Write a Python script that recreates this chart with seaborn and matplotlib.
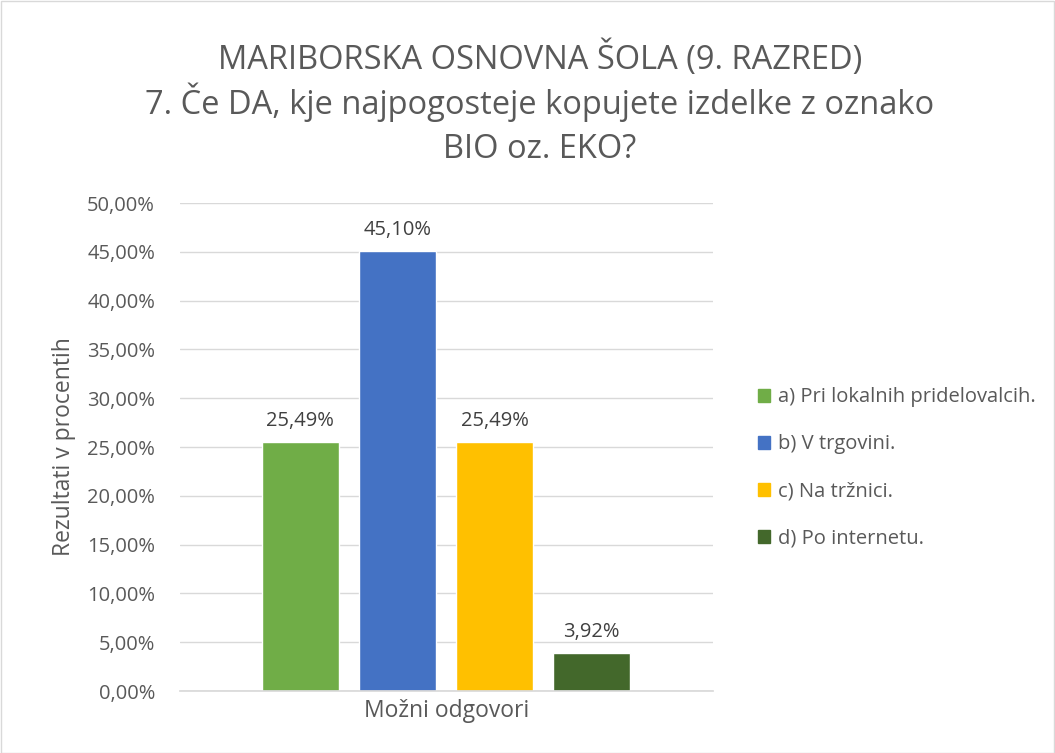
import matplotlib
matplotlib.use("Agg")
import matplotlib.pyplot as plt
import seaborn as sns
import pandas as pd
from matplotlib.patches import Rectangle

categories = ["a) Pri lokalnih pridelovalcih.", "b) V trgovini.", "c) Na tržnici.", "d) Po internetu."]
values = [25.49, 45.10, 25.49, 3.92]
colors = ["#70AD47", "#4472C4", "#FFC000", "#43682B"]
yticks = [0, 5, 10, 15, 20, 25, 30, 35, 40, 45, 50]
title_lines = ["MARIBORSKA OSNOVNA ŠOLA (9. RAZRED)",
               "7. Če DA, kje najpogosteje kopujete izdelke z oznako",
               "BIO oz. EKO?"]

sns.set_theme(style="white")
plt.rcParams['font.family'] = ['Open Sans', 'DejaVu Sans']
txt = "#595959"

df = pd.DataFrame({"cat": categories, "val": values})

fig = plt.figure(figsize=(10.55, 7.53), dpi=100)
W, H = 1055, 753
ax = fig.add_axes([180 / W, 1 - 691 / H, (713 - 180) / W, (691 - 203) / H])

sns.barplot(data=df, x="cat", y="val", hue="cat", palette=colors, order=categories,
            hue_order=categories, width=0.79, dodge=False, legend=False, ax=ax, saturation=1)

ax.set_ylim(0, 50)
ax.set_xlim(-1.24, 4.25)
ax.set_yticks(yticks)
ax.set_yticklabels([f"{v:.2f}".replace(".", ",") + "%" for v in yticks], color=txt, fontsize=14.5)
ax.tick_params(axis="y", length=0, pad=18)
ax.set_xticks([])
ax.yaxis.grid(True, color="#D9D9D9", linewidth=1)
ax.set_axisbelow(True)
for s in ["top", "right", "left"]:
    ax.spines[s].set_visible(False)
ax.spines["bottom"].set_color("#D9D9D9")

for i, v in enumerate(values):
    ax.annotate(f"{v:.2f}".replace(".", ",") + "%", (i, v), xytext=(0, 8), textcoords="offset points",
                ha="center", va="bottom", color="#404040", fontsize=14.5)

ax.set_xlabel("Možni odgovori", color=txt, fontsize=16.5, labelpad=6)
ax.set_ylabel("Rezultati v procentih", color=txt, fontsize=16.5, labelpad=8)

handles = [Rectangle((0, 0), 1, 1, color=c) for c in colors]
fig.legend(handles, categories, loc="center left", bbox_to_anchor=(740 / W, 1 - 468 / H),
           frameon=False, fontsize=14.5, labelcolor=txt, handlelength=0.6, handleheight=0.6,
           handletextpad=0.4, labelspacing=1.35)

for line, base in zip(title_lines, [69, 113.5, 158]):
    fig.text(540 / W, 1 - base / H, line, ha="center", va="baseline", fontsize=23.5, color=txt)

fig.patches.append(Rectangle((0.5 / W, 0.5 / H), 1 - 1.5 / W, 1 - 1.5 / H, transform=fig.transFigure,
                             fill=False, edgecolor="#D9D9D9", linewidth=1))

fig.savefig("out.png", dpi=100)
